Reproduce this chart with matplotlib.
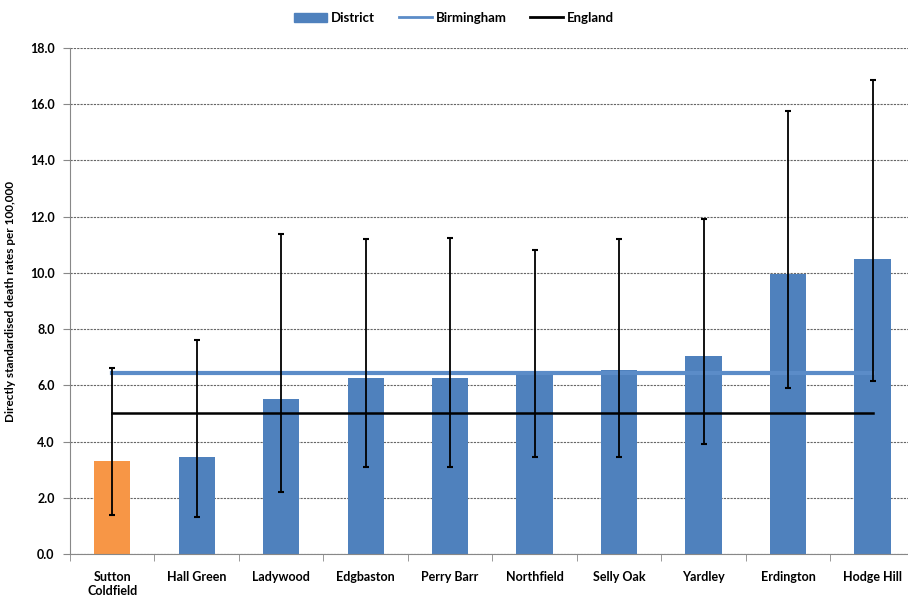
import numpy as np
import matplotlib
matplotlib.use("Agg")
import matplotlib.pyplot as plt
from matplotlib.patches import Patch
from matplotlib.lines import Line2D

plt.rcParams['font.family'] = ['Lato', 'DejaVu Sans']

districts = ['Sutton\nColdfield', 'Hall Green', 'Ladywood', 'Edgbaston', 'Perry Barr',
             'Northfield', 'Selly Oak', 'Yardley', 'Erdington', 'Hodge Hill']
rates = [3.3, 3.45, 5.5, 6.25, 6.25, 6.45, 6.55, 7.05, 9.95, 10.5]
ci_low = [1.4, 1.3, 2.2, 3.1, 3.1, 3.45, 3.45, 3.9, 5.9, 6.15]
ci_high = [6.6, 7.6, 11.4, 11.2, 11.25, 10.8, 11.2, 11.9, 15.75, 16.85]
birmingham = 6.45
england = 5.0

blue = '#4f81bd'
orange = '#f79646'

fig = plt.figure(figsize=(9.08, 6.0), dpi=100)
ax = fig.add_axes([70/908, 46/600, 1 - 70/908, 506/600])

x = np.arange(len(districts))
colors = [orange] + [blue] * (len(districts) - 1)
ax.bar(x, rates, width=0.43, color=colors, zorder=2)

err = [np.array(rates) - np.array(ci_low), np.array(ci_high) - np.array(rates)]
ax.errorbar(x, rates, yerr=err, fmt='none', ecolor='black', elinewidth=1.3,
            capsize=2.5, capthick=1.5, zorder=4)

ax.plot([x[0], x[-1]], [birmingham, birmingham], color='#5b8cc8', lw=3, zorder=3)
ax.plot([x[0], x[-1]], [england, england], color='black', lw=1.8, zorder=3)

ax.set_ylim(0, 18)
ax.set_xlim(-0.5, 9.42)
ax.set_yticks(np.arange(0, 18.1, 2))
ax.set_yticklabels([f'{v:.1f}' for v in np.arange(0, 18.1, 2)], fontsize=9, fontweight='bold')
ax.set_xticks(x)
ax.set_xticklabels(districts, fontsize=9, fontweight='bold')
ax.set_xticks(np.arange(-0.5, 9.5, 1), minor=True)
ax.tick_params(axis='x', which='major', length=0, pad=12)
ax.tick_params(axis='x', which='minor', length=5, color='#888888')
ax.tick_params(axis='y', length=5, color='#888888', pad=6)

ax.grid(axis='y', color='#666666', linestyle=(0, (2, 1)), lw=0.8, zorder=0)
for s in ['top', 'right']:
    ax.spines[s].set_visible(False)
for s in ['left', 'bottom']:
    ax.spines[s].set_color('#888888')

ax.set_ylabel('Directly standardised death rates per 100,000', fontsize=8.5,
              fontweight='bold', labelpad=10)

handles = [Patch(color=blue), Line2D([], [], color='#5b8cc8', lw=2),
           Line2D([], [], color='black', lw=2)]
fig.legend(handles, ['District', 'Birmingham', 'England'], loc='center',
           bbox_to_anchor=(0.5, 0.97), ncol=3, frameon=False,
           prop={'size': 9.5, 'weight': 'bold'}, handlelength=2.5,
           handleheight=0.7, columnspacing=1.8, handletextpad=0.3)

fig.savefig('out.png', dpi=100)
